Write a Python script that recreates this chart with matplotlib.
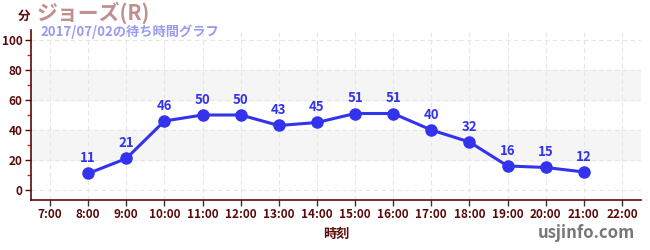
import numpy as np
import matplotlib.pyplot as plt
from matplotlib.ticker import MultipleLocator

plt.rcParams['font.family'] = ['Noto Sans CJK JP', 'DejaVu Sans']

# data
hours = [8, 9, 10, 11, 12, 13, 14, 15, 16, 17, 18, 19, 20, 21]
waits = [11, 21, 46, 50, 50, 43, 45, 51, 51, 40, 32, 16, 15, 12]
tick_hours = list(range(7, 23))
tick_labels = [f"{h}:00" for h in tick_hours]

dark = '#5a0a0a'
blue = '#3333ee'

fig = plt.figure(figsize=(6.5, 2.5), dpi=100)
ax = fig.add_axes([31/650, 50/250, 610/650, 170/250])

ax.set_xlim(6.5, 22.5)
ax.set_ylim(-6.7, 106.7)

# bands
for lo, hi in [(20, 40), (60, 80)]:
    ax.axhspan(lo, hi, color='#f5f5f5', zorder=0)

ax.set_xticks(tick_hours)
ax.set_xticklabels(tick_labels)
ax.set_yticks(range(0, 101, 20))
ax.yaxis.set_minor_locator(MultipleLocator(10))
ax.grid(True, which='major', color='#e6e6e6', linestyle=(0, (4, 3)), linewidth=0.8)

ax.tick_params(axis='both', which='major', labelsize=8.5, colors=dark, length=4, width=1, pad=2)
ax.tick_params(axis='y', which='minor', length=3, color='#dd2222', width=1)
for lbl in ax.get_xticklabels() + ax.get_yticklabels():
    lbl.set_fontweight('bold')
    lbl.set_color(dark)
ax.tick_params(axis='x', colors='#333333', labelcolor=dark)

for s in ['top', 'right']:
    ax.spines[s].set_visible(False)
ax.spines['left'].set_color(dark)
ax.spines['bottom'].set_color(dark)
ax.spines['left'].set_linewidth(1.2)
ax.spines['bottom'].set_linewidth(1.2)

ax.plot(hours, waits, color=blue, linewidth=2.2, marker='o', markersize=8, zorder=3)
for h, w in zip(hours, waits):
    ax.annotate(str(w), (h, w), xytext=(0, 6), textcoords='offset points',
                ha='center', va='bottom', color=blue, fontsize=9.5, fontweight='bold')

ax.set_xlabel('時刻', color=dark, fontsize=9.5, fontweight='bold', labelpad=4)

fig.text(18/650, 1 - 16/250, '分', color=dark, fontsize=9, fontweight='bold', ha='left', va='center')
fig.text(37/650, 1 - 13/250, 'ジョーズ(R)', color='#c09090', fontsize=15, fontweight='bold', ha='left', va='center')
fig.text(40/650, 1 - 32/250, '2017/07/02の待ち時間グラフ', color='#9a9aee', fontsize=9.5, fontweight='bold', ha='left', va='center')
fig.text(635/650, 1 - 233/250, 'usjinfo.com', color='#777777', fontsize=12, fontweight='bold', ha='right', va='center')

fig.savefig('out.png', dpi=100)
